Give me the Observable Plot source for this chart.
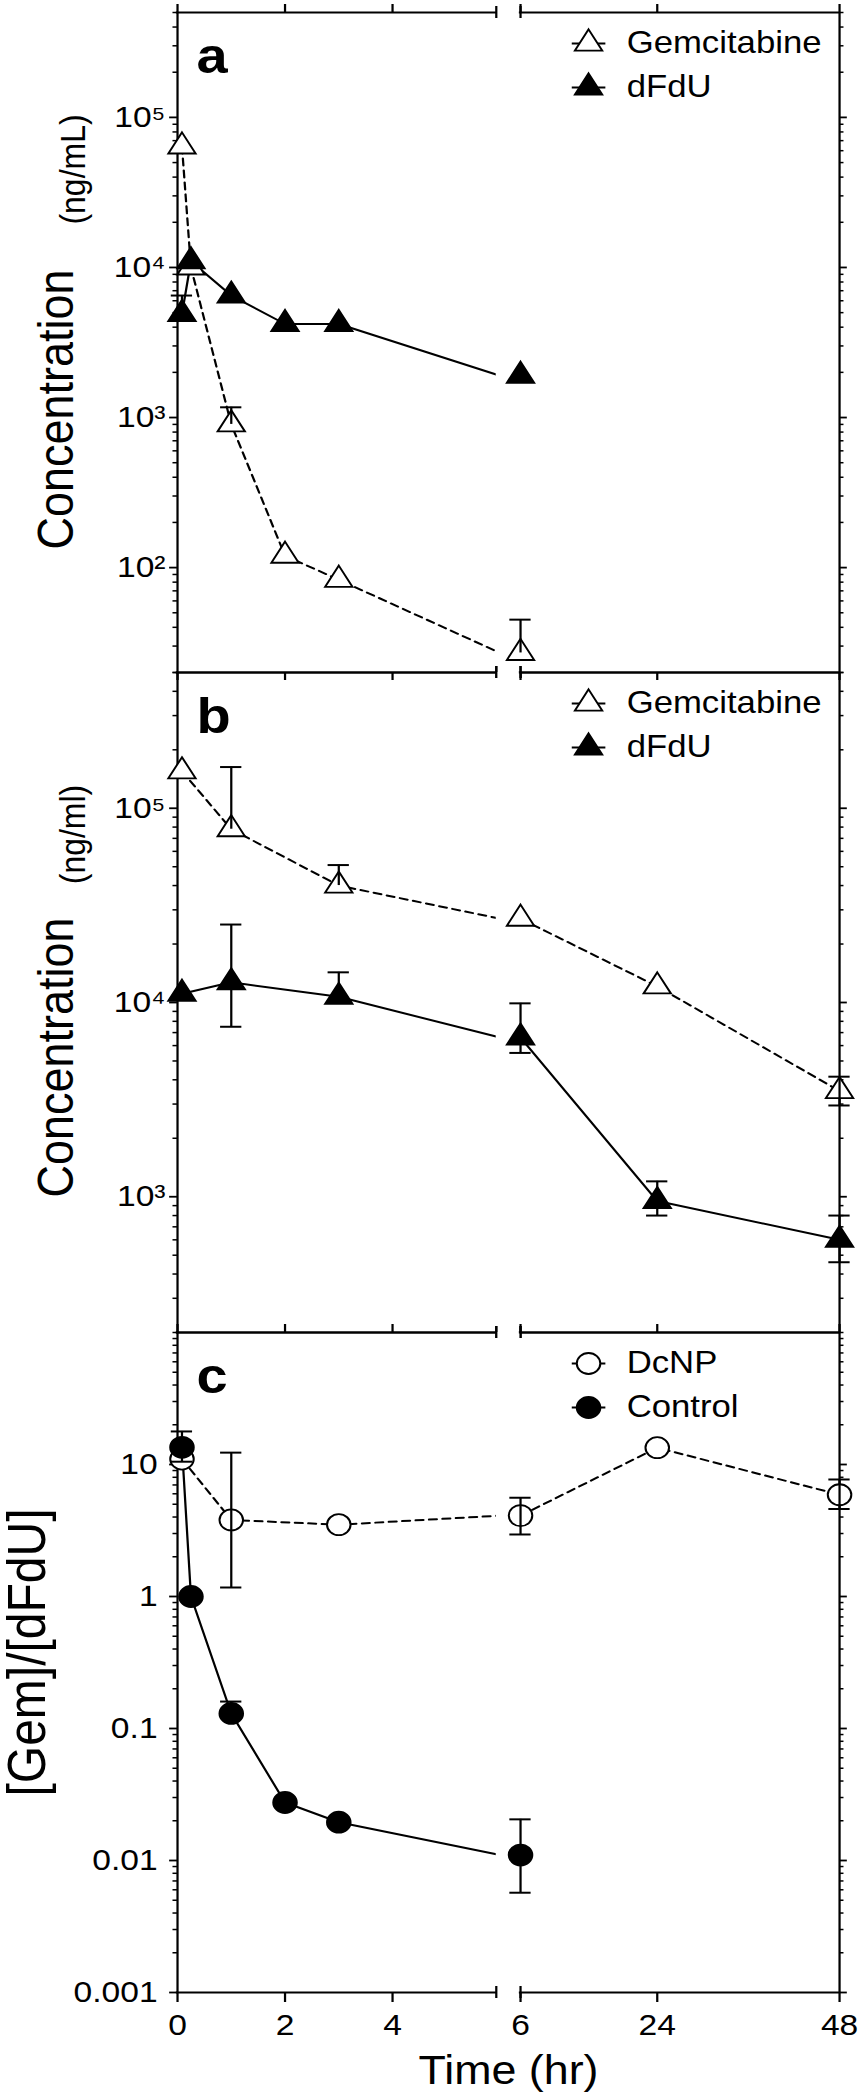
<!DOCTYPE html>
<html>
<head>
<meta charset="utf-8">
<script src="https://cdn.jsdelivr.net/npm/d3@7"></script>
<script src="https://cdn.jsdelivr.net/npm/@observablehq/plot@0.6"></script>
<style>
  body { margin: 0; background: #fff; }
  #chart { width: 860px; }
  #chart svg { display: block; overflow: visible; }
</style>
</head>
<body>
<div id="chart"></div>
<script>
// ---------------- DATA ----------------
// x axis (hours) – broken between the 0–6 h part and the 6–48 h part
const xTicks = [0, 2, 4, 6, 24, 48];

// Panel a (ng/mL)
const timesA = [0.083, 0.25, 1, 2, 3, 6];
const gemA = [64000, 10000, 900, 120, 83, 27];
const gemA_hi = [null, null, 1170, null, null, 45];
const dfduA = [4900, 11000, 6500, 4200, 4200, 1900];
const dfduA_hi = [6500, null, null, null, null, null];

// Panel b (ng/ml)
const timesB = [0.083, 1, 3, 6, 24, 48];
const gemB = [155000, 78000, 40000, 27000, 12100, 3500];
const gemB_lo = [null, null, null, null, null, 2950];
const gemB_hi = [null, 163000, 51000, null, null, 4150];
const dfduB = [11100, 12700, 10700, 6600, 950, 600];
const dfduB_lo = [null, 7500, null, 5500, 800, 460];
const dfduB_hi = [null, 25200, 14300, 9900, 1200, 800];

// Panel c ([Gem]/[dFdU])
const timesDcNP = [0.083, 1, 3, 6, 24, 48];
const dcnp = [11, 3.8, 3.5, 4.1, 13.4, 5.9];
const dcnp_lo = [null, 1.17, null, 2.95, null, 4.6];
const dcnp_hi = [null, 12.3, null, 5.6, null, 7.7];
const timesCtrl = [0.083, 0.25, 1, 2, 3, 6];
const control = [13.5, 1.0, 0.13, 0.0275, 0.0195, 0.011];
const control_lo = [10.5, null, null, null, null, 0.0057];
const control_hi = [17.8, null, 0.16, null, null, 0.0205];

// y tick labels
const majorsA = [100, 1000, 10000, 100000];
const majorsB = [1000, 10000, 100000];
const majorsC = [0.001, 0.01, 0.1, 1, 10];

// ---------------- LAYOUT ----------------
const S = 1.12;                    // horizontal stretch of the original figure
const W = 860 / S;                 // design width
const ML = 158, MR = W - 749.1;
const fontFamily = '"Liberation Sans", Arial, Helvetica, sans-serif';

const axisBreak = {from: 5.93, to: 6};
const RIGHT0 = 6.381, RIGHT_K = 0.1413;
const uRight = t => RIGHT0 + (t - 6) * RIGHT_K;
const pos = t => (t < 6 ? t : uRight(t));
const U_MAX = uRight(48);
const xTickPos = xTicks.map(pos);

const SUP = {"0":"⁰","1":"¹","2":"²","3":"³","4":"⁴","5":"⁵","6":"⁶","7":"⁷","8":"⁸","9":"⁹","-":"⁻"};
const fmtPow = d => "10" + String(Math.round(Math.log10(d))).split("").map(c => SUP[c]).join("");
const fmtPlain = d => String(d);

const triSym = {draw(ctx, size) {
  const r = Math.sqrt(size / Math.PI), a = 1.355 * r, h = a * Math.sqrt(3);
  ctx.moveTo(0, -2 * h / 3); ctx.lineTo(a, h / 3); ctx.lineTo(-a, h / 3); ctx.closePath();
}};
const stubSym = {draw(ctx, size) {
  const r = Math.sqrt(size / Math.PI);
  ctx.moveTo(-r, 0); ctx.lineTo(r, 0);
}};

function makeRows(times, vals, lo, hi) {
  return times.map((t, i) => ({t, v: vals[i], lo: lo ? lo[i] : null, hi: hi ? hi[i] : null}));
}

function panel(cfg) {
  const [y0, y1] = cfg.yDomain;
  const minors = [];
  for (let e = Math.floor(Math.log10(y0)) - 1; e <= Math.ceil(Math.log10(y1)); e++)
    for (let m = 2; m <= 9; m++) {
      const v = m * Math.pow(10, e);
      if (v >= y0 * 0.999 && v <= y1 * 1.001) minors.push(v);
    }
  const K = () => 0, KM = () => U_MAX;
  const marks = [];
  // series lines (left part in 0–6 h coordinates, right part in 6–48 h coordinates)
  for (const s of cfg.series) {
    const st = {stroke: "black", strokeWidth: 2, ...(s.dash ? {strokeDasharray: "7,5"} : {})};
    const left = s.rows.filter(d => d.t <= 6), right = s.rows.filter(d => d.t >= 6);
    if (left.length > 1) marks.push(Plot.line(left, {x: "t", y: "v", ...st}));
    if (right.length > 1) marks.push(Plot.line(right, {x: d => uRight(d.t), y: "v", ...st}));
  }
  // axis break gap
  marks.push(Plot.rect([axisBreak], {x1: d => pos(d.from), x2: d => uRight(d.to), fill: "white"}));
  // frame
  marks.push(Plot.ruleX([0, U_MAX], {stroke: "black", strokeWidth: 2}));
  marks.push(Plot.ruleY([y0, y1], {x1: K, x2: () => pos(axisBreak.from), stroke: "black", strokeWidth: 2, strokeLinecap: "square"}));
  marks.push(Plot.ruleY([y0, y1], {x1: () => uRight(axisBreak.to), x2: KM, stroke: "black", strokeWidth: 2, strokeLinecap: "square"}));
  // break marks
  for (const Y of [y0, y1])
    marks.push(Plot.ruleX([pos(axisBreak.from), uRight(axisBreak.to)], {y1: () => Y, y2: () => Y, insetTop: -6, insetBottom: -6, stroke: "black", strokeWidth: 2}));
  // y ticks left & right
  marks.push(Plot.ruleY(cfg.majors, {x1: K, x2: K, insetLeft: -7, stroke: "black", strokeWidth: 1.8}));
  marks.push(Plot.ruleY(minors, {x1: K, x2: K, insetLeft: -4, stroke: "black", strokeWidth: 1.5}));
  marks.push(Plot.ruleY(cfg.majors, {x1: KM, x2: KM, insetRight: -7, stroke: "black", strokeWidth: 1.8}));
  marks.push(Plot.ruleY(minors, {x1: KM, x2: KM, insetRight: -4, stroke: "black", strokeWidth: 1.5}));
  // x ticks on top edge
  if (cfg.topTicks === "up")
    marks.push(Plot.ruleX(xTickPos, {y1: () => y1, y2: () => y1, insetTop: -8, stroke: "black", strokeWidth: 2}));
  if (cfg.topTicks === "down")
    marks.push(Plot.ruleX(xTickPos, {y1: () => y1, y2: () => y1, insetBottom: -8, stroke: "black", strokeWidth: 2}));
  if (cfg.bottomAxis)
    marks.push(Plot.axisX({ticks: xTickPos, anchor: "bottom", tickSize: 10, tickPadding: 11, strokeWidth: 2,
      tickFormat: d => String(xTicks[xTickPos.indexOf(d)]), fontSize: 30, label: null}));
  // markers + error bars
  for (const s of cfg.series) {
    marks.push(Plot.dot(s.rows, {x: d => pos(d.t), y: "v", symbol: s.symbol, r: s.r, fill: s.fill, stroke: "black", strokeWidth: 1.8}));
    const eb = s.rows.filter(d => d.lo != null || d.hi != null);
    marks.push(Plot.ruleX(eb, {x: d => pos(d.t), y1: d => (d.lo ?? d.v), y2: d => (d.hi ?? d.v), stroke: "black", strokeWidth: 2}));
    const caps = eb.flatMap(d => [d.lo, d.hi].filter(v => v != null).map(v => ({t: d.t, y: v})));
    marks.push(Plot.ruleY(caps, {y: "y", x1: d => pos(d.t), x2: d => pos(d.t), insetLeft: -9.5, insetRight: -9.5, stroke: "black", strokeWidth: 2}));
  }
  // legend
  cfg.series.forEach((s, i) => {
    const dy = 31 + i * 44;
    marks.push(Plot.dot([s.name], {frameAnchor: "top-left", dx: 367, dy, symbol: stubSym, r: 15, stroke: "black", strokeWidth: 2, fill: "none"}));
    marks.push(Plot.dot([s.name], {frameAnchor: "top-left", dx: 367, dy, symbol: s.symbol, r: s.r, fill: s.fill, stroke: "black", strokeWidth: 1.8}));
    marks.push(Plot.text([s.name], {frameAnchor: "top-left", dx: 401, dy, text: d => d, textAnchor: "start", lineAnchor: "middle", fontSize: 31}));
  });
  // panel letter
  marks.push(Plot.text([cfg.letter], {frameAnchor: "top-left", dx: 17, dy: 60, text: d => d, fontSize: 50, fontWeight: "bold", textAnchor: "start", lineAnchor: "bottom"}));
  // y tick labels
  marks.push(Plot.axisY({ticks: cfg.majors, anchor: "left", tickSize: 0, tickPadding: cfg.labelPad, tickFormat: cfg.fmt, fontSize: 30, label: null}));
  // y titles
  for (const t of cfg.titles)
    marks.push(Plot.text([t.text], {frameAnchor: "left", dx: t.dx, dy: t.dy, rotate: -90, text: d => d, fontSize: t.size, textAnchor: "middle", lineAnchor: "bottom"}));
  if (cfg.xTitle)
    marks.push(Plot.text([cfg.xTitle], {frameAnchor: "bottom", dy: 91, text: d => d, fontSize: 40, textAnchor: "middle", lineAnchor: "bottom"}));

  return Plot.plot({
    width: W, height: cfg.height,
    marginTop: cfg.mt, marginBottom: cfg.mb, marginLeft: ML, marginRight: MR,
    style: {fontFamily, background: "none", overflow: "visible", color: "black"},
    x: {type: "linear", domain: [0, U_MAX], axis: null},
    y: {type: "log", domain: cfg.yDomain, axis: null},
    marks
  });
}

const cfgA = {
  height: 672, mt: 12, mb: 0, yDomain: [20, 500000], majors: majorsA, fmt: fmtPow, labelPad: 10.7,
  topTicks: "up", letter: "a",
  series: [
    {name: "Gemcitabine", rows: makeRows(timesA, gemA, null, gemA_hi), dash: true, symbol: triSym, r: 9, fill: "white"},
    {name: "dFdU", rows: makeRows(timesA, dfduA, null, dfduA_hi), dash: false, symbol: triSym, r: 9, fill: "black"}
  ],
  titles: [
    {text: "Concentration", size: 45, dx: -93.7, dy: 67},
    {text: "(ng/mL)", size: 32, dx: -83, dy: -173}
  ]
};
const cfgB = {
  height: 660, mt: 0, mb: 0, yDomain: [200, 500000], majors: majorsB, fmt: fmtPow, labelPad: 10.7,
  topTicks: "down", letter: "b",
  series: [
    {name: "Gemcitabine", rows: makeRows(timesB, gemB, gemB_lo, gemB_hi), dash: true, symbol: triSym, r: 9, fill: "white"},
    {name: "dFdU", rows: makeRows(timesB, dfduB, dfduB_lo, dfduB_hi), dash: false, symbol: triSym, r: 9, fill: "black"}
  ],
  titles: [
    {text: "Concentration", size: 45, dx: -93.7, dy: 55},
    {text: "(ng/ml)", size: 32, dx: -83, dy: -168}
  ]
};
const cfgC = {
  height: 765, mt: 0, mb: 105, yDomain: [0.001, 100], majors: majorsC, fmt: fmtPlain, labelPad: 17.8,
  topTicks: "up", bottomAxis: true, letter: "c", xTitle: "Time (hr)",
  series: [
    {name: "DcNP", rows: makeRows(timesDcNP, dcnp, dcnp_lo, dcnp_hi), dash: true, symbol: "circle", r: 10.5, fill: "white"},
    {name: "Control", rows: makeRows(timesCtrl, control, control_lo, control_hi), dash: false, symbol: "circle", r: 10.5, fill: "black"}
  ],
  titles: [
    {text: "[Gem]/[dFdU]", size: 48, dx: -118, dy: -10}
  ]
};

const root = document.getElementById("chart");
for (const cfg of [cfgA, cfgB, cfgC]) {
  const svg = panel(cfg);
  svg.setAttribute("preserveAspectRatio", "none");
  svg.setAttribute("width", 860);
  svg.style.width = "860px";
  svg.style.maxWidth = "none";
  svg.style.height = cfg.height + "px";
  root.appendChild(svg);
}
</script>
</body>
</html>
